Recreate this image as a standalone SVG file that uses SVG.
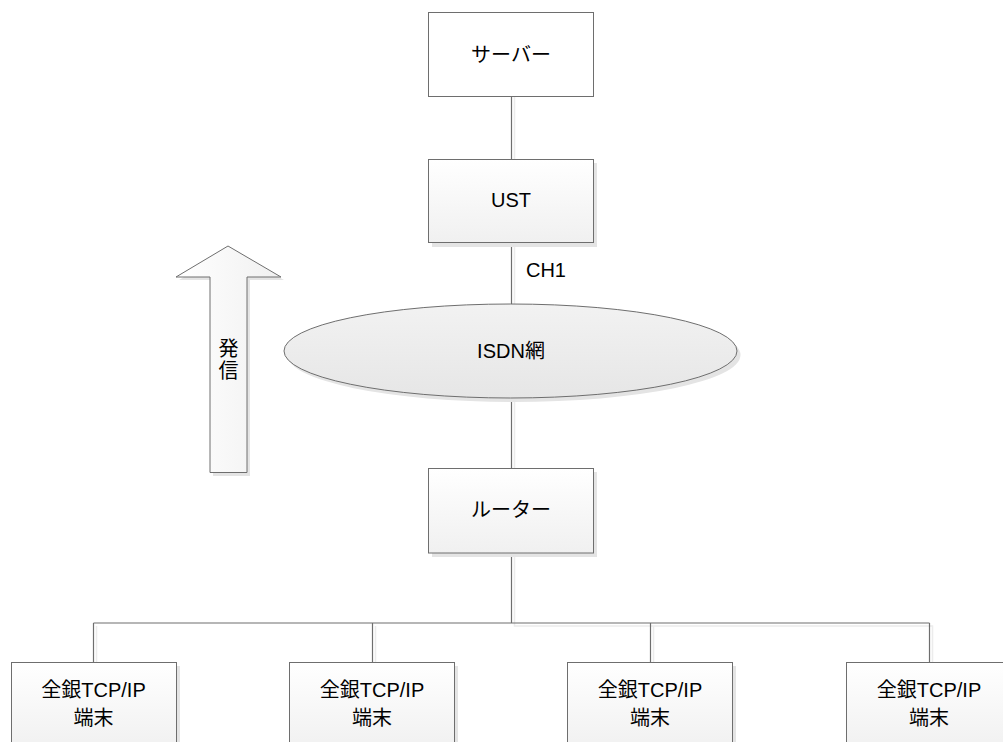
<svg xmlns="http://www.w3.org/2000/svg" width="1003" height="742" viewBox="0 0 1003 742">
<style>
.box{stroke:#6e6e6e;stroke-width:1}
.sh{fill:#e4e4e4;stroke:none}
.shl{stroke:#ececec;stroke-width:1.5;fill:none}
.ln{stroke:#6e6e6e;stroke-width:1.2;fill:none}
text{font-family:"Liberation Sans","Noto Sans CJK JP",sans-serif;font-size:20px;fill:#000;text-anchor:middle}
</style>
<defs>
<linearGradient id="g" x1="0" y1="0" x2="0" y2="1">
<stop offset="0" stop-color="#ffffff"/>
<stop offset="1" stop-color="#f0f0f0"/>
</linearGradient>
<linearGradient id="ge" x1="0" y1="0" x2="0" y2="1">
<stop offset="0" stop-color="#f2f2f2"/>
<stop offset="1" stop-color="#e6e6e6"/>
</linearGradient>
<linearGradient id="ga" x1="0" y1="0" x2="1" y2="0">
<stop offset="0" stop-color="#ffffff"/>
<stop offset="1" stop-color="#f0f0f0"/>
</linearGradient>
</defs>
<g id="connectors">
<path class="shl" d="M514.5 97V160M514.5 243V305M514.5 399V469M514.5 554V626H932.5V662M96.5 626V662M375.5 626V662M653.5 626V662"/>
<path class="ln" d="M511.5 96V159M511.5 242V304M511.5 398V468M511.5 553V623M93.5 623H929.5M93.5 623V662M372.5 623V662M650.5 623V662M929.5 623V662"/>
<text x="546" y="277">CH1</text>
</g>
<g id="server">
<rect class="box" x="428.5" y="12.5" width="165" height="84" fill="#fff"/>
<text x="511" y="62">サーバー</text>
</g>
<g id="ust">
<rect class="sh" x="432" y="163" width="165" height="84"/>
<rect class="box" x="428.5" y="159.5" width="165" height="83" fill="url(#g)"/>
<text x="511" y="207">UST</text>
</g>
<g id="isdn">
<ellipse class="sh" cx="514" cy="355" rx="226.5" ry="47"/>
<ellipse class="box" cx="510.5" cy="351" rx="226.5" ry="47" fill="url(#ge)"/>
<text x="511" y="358">ISDN網</text>
</g>
<g id="router">
<rect class="sh" x="432" y="472" width="165" height="85"/>
<rect class="box" x="428.5" y="468.5" width="165" height="84.5" fill="url(#g)"/>
<text x="511" y="517">ルーター</text>
</g>
<g id="arrow">
<polygon class="sh" points="231,249 284,280 250,280 250,476 213,476 213,280 179,280"/>
<polygon class="box" points="228,246 281,277 247,277 247,472.5 210,472.5 210,277 176,277" fill="url(#ga)"/>
<text x="228.5" y="356">発</text>
<text x="228.5" y="378">信</text>
</g>
<g id="t1">
<rect class="sh" x="15" y="666" width="165" height="90"/>
<rect class="box" x="11.5" y="662.5" width="165" height="90" fill="url(#g)"/>
<text x="93.5" y="697">全銀TCP/IP</text>
<text x="93.5" y="725">端末</text>
</g>
<g id="t2">
<rect class="sh" x="293" y="666" width="165" height="90"/>
<rect class="box" x="289.5" y="662.5" width="165" height="90" fill="url(#g)"/>
<text x="372" y="697">全銀TCP/IP</text>
<text x="372" y="725">端末</text>
</g>
<g id="t3">
<rect class="sh" x="571" y="666" width="165" height="90"/>
<rect class="box" x="567.5" y="662.5" width="165" height="90" fill="url(#g)"/>
<text x="650" y="697">全銀TCP/IP</text>
<text x="650" y="725">端末</text>
</g>
<g id="t4">
<rect class="sh" x="850" y="666" width="165" height="90"/>
<rect class="box" x="846.5" y="662.5" width="165" height="90" fill="url(#g)"/>
<text x="929" y="697">全銀TCP/IP</text>
<text x="929" y="725">端末</text>
</g>
</svg>
